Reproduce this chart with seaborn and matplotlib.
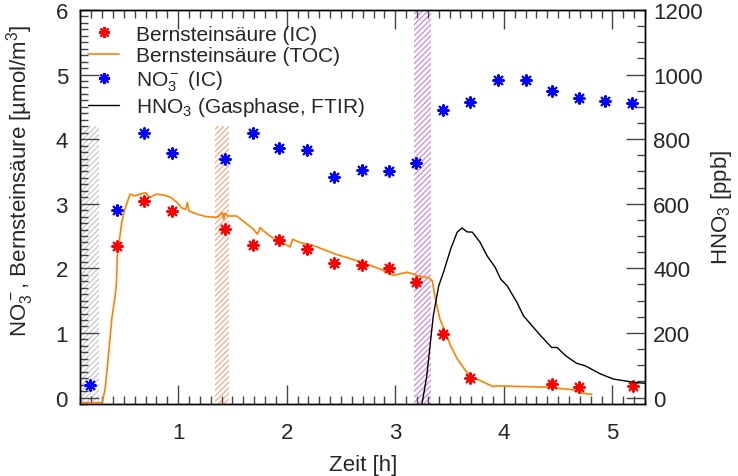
import numpy as np
import pandas as pd
import matplotlib
matplotlib.use("Agg")
import matplotlib.pyplot as plt
import seaborn as sns
from matplotlib.ticker import MultipleLocator
from matplotlib.lines import Line2D

# ==========================================
# Daten
# ==========================================
# Bernsteinsäure (IC) [µmol/m³]
bs_ic_zeit = [0.44, 0.69, 0.94, 1.43, 1.685, 1.93, 2.19, 2.44, 2.69, 2.94, 3.19, 3.44, 3.69, 4.44, 4.69, 5.19]
bs_ic_wert = [2.34, 3.05, 2.88, 2.61, 2.36, 2.44, 2.30, 2.08, 2.05, 2.00, 1.79, 0.98, 0.30, 0.21, 0.16, 0.18]

# NO3- (IC) [µmol/m³]
no3_zeit = [0.19, 0.44, 0.69, 0.94, 1.43, 1.685, 1.93, 2.19, 2.44, 2.69, 2.94, 3.19, 3.44, 3.69, 3.95, 4.20, 4.44, 4.69, 4.93, 5.18]
no3_wert = [0.19, 2.90, 4.09, 3.78, 3.69, 4.09, 3.87, 3.83, 3.42, 3.53, 3.50, 3.63, 4.45, 4.58, 4.91, 4.91, 4.74, 4.64, 4.59, 4.56]

# Bernsteinsäure (TOC) [µmol/m³]
toc_zeit = [0.10, 0.20, 0.30, 0.327, 0.358, 0.389, 0.42, 0.43, 0.44, 0.46, 0.48, 0.51, 0.557,
            0.60, 0.65, 0.70, 0.74, 0.80, 0.88, 0.93, 0.99, 1.03, 1.07, 1.085, 1.10, 1.17, 1.26,
            1.36, 1.41, 1.42, 1.43, 1.46, 1.54, 1.63, 1.69, 1.73, 1.755, 1.80, 1.89, 1.94, 1.98,
            2.03, 2.055, 2.12, 2.25, 2.45, 2.68, 2.86, 2.98, 3.11, 3.20, 3.31, 3.34, 3.37, 3.41,
            3.46, 3.51, 3.57, 3.65, 3.72, 3.81, 3.90, 3.94, 4.40, 4.64, 4.70, 4.81]
toc_wert = [-0.08, -0.08, -0.08, 0.13, 0.65, 1.22, 1.58, 1.73, 2.19, 2.45, 2.71, 2.92, 3.15,
            3.12, 3.15, 3.17, 3.10, 3.15, 3.13, 3.10, 3.02, 2.94, 2.91, 3.02, 2.89, 2.84, 2.80,
            2.79, 2.86, 2.76, 2.85, 2.81, 2.81, 2.69, 2.61, 2.53, 2.63, 2.56, 2.45, 2.43, 2.38,
            2.33, 2.45, 2.40, 2.35, 2.22, 2.10, 1.99, 1.89, 1.94, 1.89, 1.85, 1.81, 1.52, 1.22,
            1.01, 0.80, 0.60, 0.41, 0.31, 0.24, 0.17, 0.18, 0.16, 0.12, 0.07, 0.05]

# HNO3 (Gasphase, FTIR) [ppb]
hno3_zeit = [3.22, 3.246, 3.29, 3.35, 3.40, 3.445, 3.51, 3.57, 3.615, 3.66, 3.71, 3.78, 3.845,
             3.92, 3.97, 4.03, 4.12, 4.18, 4.26, 4.34, 4.44, 4.49, 4.57, 4.67, 4.75, 4.89, 5.01,
             5.20, 5.30]
hno3_wert = [-30, -20, 67, 253, 346, 389, 460, 512, 525, 513, 512, 481, 439,
             403, 367, 346, 295, 253, 222, 191, 155, 155, 129, 106, 98, 73, 57,
             47, 44]

# Schraffierte Bereiche: (start, ende, oben) in Zeit [h] / µmol/m³
span_grau = (0.10, 0.27, 4.2)
span_orange = (1.34, 1.47, 4.2)
span_lila = (3.17, 3.33, 6.0)

# ==========================================
# Stil
# ==========================================
sns.set_style("white")
plt.rcParams['font.family'] = ['Liberation Sans', 'DejaVu Sans']
plt.rcParams['mathtext.fontset'] = 'custom'
plt.rcParams['mathtext.rm'] = 'Liberation Sans'
plt.rcParams['mathtext.it'] = 'Liberation Sans:italic'
plt.rcParams['mathtext.bf'] = 'Liberation Sans:bold'
plt.rcParams['hatch.linewidth'] = 0.9
FS = 16
FS_LEG = 15

fig, ax = plt.subplots(figsize=(7.38, 4.77), dpi=100)
fig.subplots_adjust(left=0.109, right=0.874, top=0.977, bottom=0.151)
ax2 = ax.twinx()

# Schraffuren
for (x0, x1, top), col in [(span_grau, '#c8c8c8'), (span_orange, '#f5aa88'), (span_lila, '#cc88dd')]:
    ax.fill_between([x0, x1], [-0.1, -0.1], [top, top], facecolor='none',
                    edgecolor=col, hatch='//////', linewidth=0, zorder=0)

df_toc = pd.DataFrame({'Zeit': toc_zeit, 'Wert': toc_wert})
df_ic = pd.DataFrame({'Zeit': bs_ic_zeit, 'Wert': bs_ic_wert})
df_no3 = pd.DataFrame({'Zeit': no3_zeit, 'Wert': no3_wert})
df_hno3 = pd.DataFrame({'Zeit': hno3_zeit, 'Wert': hno3_wert})

stern = (8, 2, 0)
sns.lineplot(data=df_toc, x='Zeit', y='Wert', color='#ff8000', linewidth=1.2,
             estimator=None, sort=False, ax=ax, zorder=3)
sns.scatterplot(data=df_ic, x='Zeit', y='Wert', color='#ff0000', marker=stern, s=60,
                linewidth=1.5, edgecolor='#ff0000', ax=ax, zorder=4)
sns.scatterplot(data=df_no3, x='Zeit', y='Wert', color='#0000ff', marker=stern, s=60,
                linewidth=1.5, edgecolor='#0000ff', ax=ax, zorder=4)
sns.lineplot(data=df_hno3, x='Zeit', y='Wert', color='black', linewidth=1.0,
             estimator=None, sort=False, ax=ax2, zorder=3)

# Achsen
ax.set_xlim(0.1, 5.3)
ax.set_ylim(-0.1, 6.0)
ax2.set_ylim(-20, 1200)

ax.xaxis.set_major_locator(MultipleLocator(1))
ax.xaxis.set_minor_locator(MultipleLocator(0.1))
ax.yaxis.set_major_locator(MultipleLocator(1))
ax.yaxis.set_minor_locator(MultipleLocator(0.1))
ax2.yaxis.set_major_locator(MultipleLocator(200))
ax2.yaxis.set_minor_locator(MultipleLocator(50))

ax.tick_params(axis='x', which='both', direction='in', top=True, bottom=True,
               labelsize=FS, pad=13, color='#444444')
ax.tick_params(axis='y', which='both', direction='in', left=True, right=False,
               labelsize=FS, pad=9, color='#444444')
ax.tick_params(which='major', length=14, width=1)
ax.tick_params(which='minor', length=6, width=1)
ax2.tick_params(axis='y', which='both', direction='in', right=True, labelsize=FS, pad=6, color='#444444')
ax2.tick_params(which='major', length=14, width=1)
ax2.tick_params(which='minor', length=6, width=1)

for a in (ax, ax2):
    for s in a.spines.values():
        s.set_color('black')
        s.set_linewidth(1.0)

ax.set_xlabel('Zeit [h]', fontsize=FS, labelpad=8)
ax.set_ylabel(r'NO$_3^-$, Bernsteinsäure [µmol/m$^3$]', fontsize=FS)
ax.yaxis.set_label_coords(-0.078, 0.57)
ax2.set_ylabel(r'HNO$_3$ [ppb]', fontsize=FS, labelpad=4)

# Legende
handles = [
    Line2D([], [], color='#ff0000', marker=stern, linestyle='none', markersize=8, markeredgewidth=1.5),
    Line2D([], [], color='#ff8000', linewidth=1.2),
    Line2D([], [], color='#0000ff', marker=stern, linestyle='none', markersize=8, markeredgewidth=1.5),
    Line2D([], [], color='black', linewidth=1.0),
]
labels = ['Bernsteinsäure (IC)', 'Bernsteinsäure (TOC)', r'NO$_3^-$ (IC)', r'HNO$_3$ (Gasphase, FTIR)']
ax2.legend(handles, labels, loc='upper left', bbox_to_anchor=(-0.02, 1.01), frameon=False,
           fontsize=FS_LEG, handlelength=1.5, handletextpad=0.8, labelspacing=0.13)

plt.savefig('out.png', dpi=100)
